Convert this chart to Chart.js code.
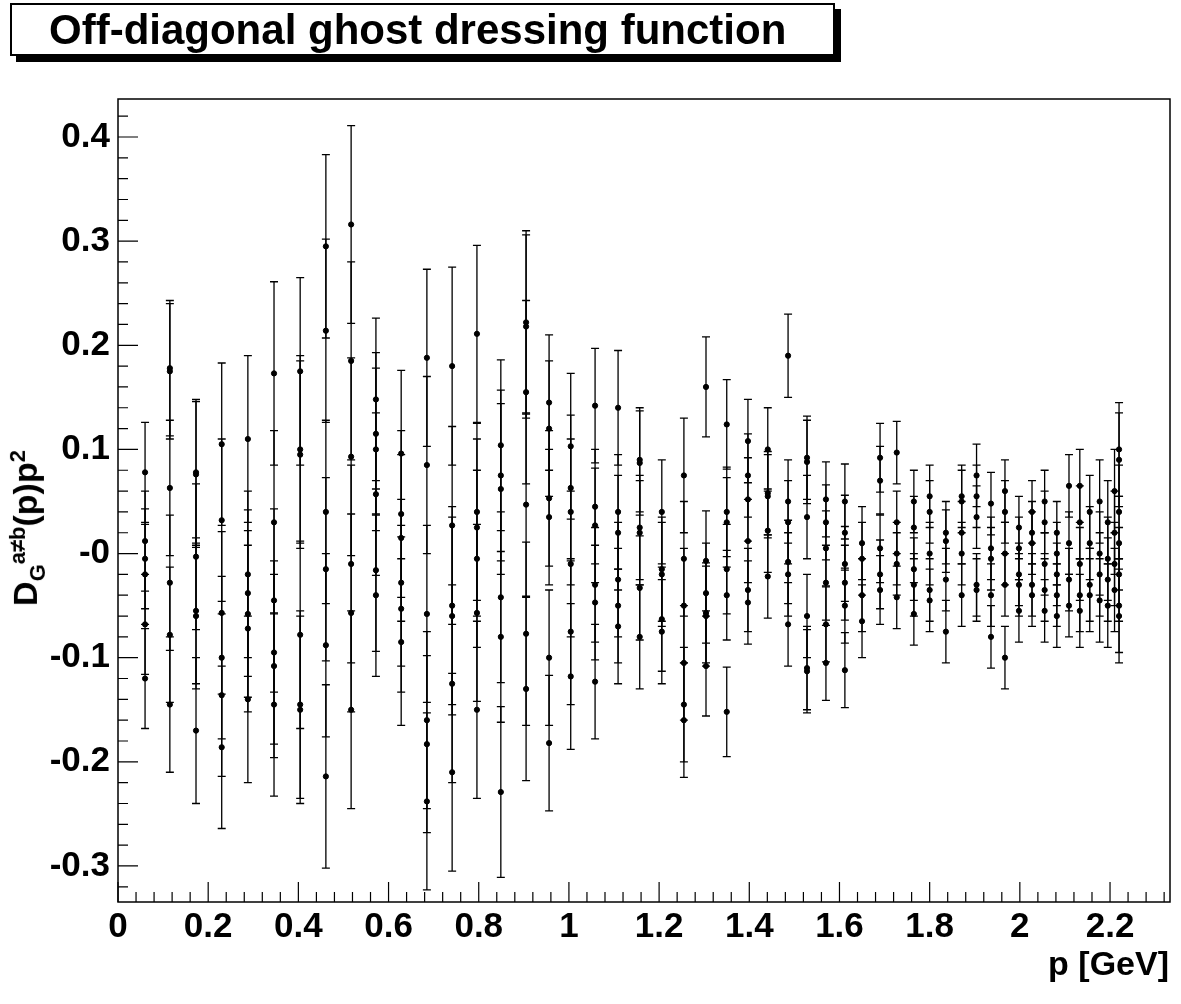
<!DOCTYPE html>
<html><head><meta charset="utf-8">
<script src="https://cdn.jsdelivr.net/npm/chart.js@4"></script>
<style>
body{margin:0;background:#fff;font-family:"Liberation Sans",Arial,sans-serif}
#wrap{position:relative;width:1181px;height:1004px}
#c{position:absolute;left:0;top:0}
#title{position:absolute;left:10px;top:3px;width:825px;height:53px;border:2px solid #000;background:#fff;box-shadow:6px 6px 0 #000;font-weight:bold;font-size:42px;line-height:50px;padding-left:37px;box-sizing:border-box;white-space:nowrap}
#ylab{position:absolute;left:-112px;top:505px;width:280px;transform:rotate(-90deg);transform-origin:center;font-weight:bold;font-size:34px;text-align:center;white-space:nowrap}
#ylab sup,#ylab sub{font-size:22px}
#xlab{position:absolute;right:12px;top:944px;font-weight:bold;font-size:34px}
</style></head><body>
<div id="wrap">
<canvas id="c" width="1181" height="1004"></canvas>
<div id="title">Off-diagonal ghost dressing function</div>
<div id="ylab">D<sub>G</sub><sup>a≠b</sup>(p)p<sup>2</sup></div>
<div id="xlab">p [GeV]</div>
</div>
<script>
const $=id=>document.getElementById(id);
// column momenta
const xs=[0.06,0.115,0.173,0.23,0.288,0.346,0.404,0.461,0.517,0.572,0.628,0.685,0.741,0.796,0.849,0.905,0.956,1.004,1.058,1.109,1.157,1.206,1.255,1.304,1.35,1.397,1.441,1.486,1.528,1.57,1.612,1.65,1.69,1.727,1.765,1.8,1.836,1.871,1.904,1.936,1.967,1.998,2.027,2.055,2.082,2.109,2.133,2.155,2.177,2.195,2.21,2.22];
// values per column
const vals=[
[0.078,0.012,-0.005,-0.02,-0.068,-0.12],
[0.178,0.175,0.063,-0.028,-0.078,-0.145],
[0.078,0.076,-0.003,-0.055,-0.06,-0.17],
[0.105,0.032,-0.057,-0.1,-0.136,-0.186],
[0.11,-0.02,-0.038,-0.058,-0.072,-0.14],
[0.173,0.03,-0.045,-0.095,-0.108,-0.145],
[0.175,0.1,0.095,-0.078,-0.145,-0.15],
[0.295,0.214,0.04,-0.015,-0.088,-0.214],
[0.316,0.185,0.093,-0.01,-0.057,-0.15],
[0.148,0.115,0.1,0.057,-0.016,-0.04],
[0.096,0.038,0.015,-0.028,-0.053,-0.085],
[0.188,0.085,-0.058,-0.16,-0.183,-0.238],
[0.18,0.027,-0.05,-0.06,-0.125,-0.21],
[0.211,0.04,0.025,-0.005,-0.057,-0.15],
[0.104,0.075,0.062,-0.042,-0.08,-0.229],
[0.222,0.218,0.155,0.047,-0.077,-0.13],
[0.145,0.12,0.053,0.035,-0.1,-0.182],
[0.103,0.063,0.04,-0.01,-0.075,-0.118],
[0.142,0.045,0.027,-0.03,-0.047,-0.123],
[0.14,0.04,0.02,-0.025,-0.05,-0.07],
[0.09,0.087,0.025,0.02,-0.033,-0.08],
[0.04,-0.015,-0.02,-0.063,-0.075],
[0.075,-0.005,-0.05,-0.105,-0.145,-0.16],
[0.16,-0.007,-0.038,-0.057,-0.06,-0.108],
[0.124,0.04,0.03,-0.015,-0.04,-0.152],
[0.108,0.075,0.052,0.012,-0.035,-0.047],
[0.1,0.058,0.055,0.022,-0.022],
[0.19,0.05,0.03,-0.008,-0.02,-0.068],
[0.092,0.088,0.035,-0.06,-0.11,-0.113],
[0.052,0.03,0.005,-0.028,-0.068,-0.105],
[0.05,0.02,-0.01,-0.028,-0.05,-0.112],
[0.01,-0.005,-0.04,-0.065],
[0.092,0.07,0.005,-0.02,-0.035],
[0.097,0.03,0.0,-0.01,-0.042],
[0.05,0.025,-0.015,-0.03,-0.058],
[0.055,0.04,0.0,-0.035,-0.045],
[0.02,0.012,-0.025,-0.075],
[0.055,0.05,0.02,0.0,-0.04],
[0.075,0.055,0.035,-0.03,-0.035],
[0.048,0.005,-0.005,-0.04,-0.08],
[0.06,0.04,0.0,-0.03,-0.1],
[0.025,0.005,-0.02,-0.03,-0.055],
[0.04,0.02,0.01,-0.03,-0.04],
[0.05,0.03,-0.01,-0.035,-0.055],
[0.02,0.0,-0.02,-0.04,-0.06],
[0.065,0.01,-0.025,-0.05],
[0.065,0.03,-0.01,-0.04,-0.055],
[0.04,0.01,-0.03,-0.04],
[0.05,0.0,-0.02,-0.045],
[0.03,-0.005,-0.025,-0.05],
[0.06,0.02,-0.01,-0.035],
[0.1,0.09,0.04,0.01,-0.02,-0.05,-0.06]];
// error per column
const errs=[0.048,0.065,0.07,0.078,0.08,0.088,0.09,0.088,0.095,0.078,0.08,0.085,0.095,0.085,0.082,0.088,0.065,0.07,0.055,0.055,0.05,0.05,0.055,0.048,0.043,0.04,0.04,0.04,0.04,0.036,0.036,0.035,0.033,0.03,0.03,0.03,0.03,0.03,0.03,0.03,0.03,0.03,0.03,0.03,0.03,0.03,0.035,0.035,0.04,0.04,0.04,0.045];
const xMajor=[0,0.2,0.4,0.6,0.8,1,1.2,1.4,1.6,1.8,2,2.2];
const yMajor=[-0.3,-0.2,-0.1,0,0.1,0.2,0.3,0.4];

const pts=[];
xs.forEach((x,i)=>vals[i].forEach(v=>pts.push({x,y:v,e:errs[i]})));

const frame={id:"frame",afterDatasetsDraw(ch){
  const c=ch.ctx,a=ch.chartArea,sx=ch.scales.x,sy=ch.scales.y;
  c.save();c.strokeStyle="#000";c.lineWidth=1.3;
  // error bars
  ch.data.datasets[0].data.forEach(p=>{
    const px=sx.getPixelForValue(p.x),y1=sy.getPixelForValue(p.y+p.e),y2=sy.getPixelForValue(p.y-p.e);
    c.beginPath();c.moveTo(px,y1);c.lineTo(px,y2);
    c.moveTo(px-4,y1);c.lineTo(px+4,y1);c.moveTo(px-4,y2);c.lineTo(px+4,y2);c.stroke();
  });
  c.lineWidth=1.5;c.strokeRect(a.left,a.top,a.right-a.left,a.bottom-a.top);
  c.lineWidth=1.2;c.beginPath();
  for(let k=0;k<=58;k++){const v=k*0.04,px=sx.getPixelForValue(v);if(px>a.right)break;
    const L=k%5===0?20:10;c.moveTo(px,a.bottom);c.lineTo(px,a.bottom-L);}
  for(let k=-17;k<=21;k++){const v=k*0.02,py=sy.getPixelForValue(v);if(py<a.top||py>a.bottom)continue;
    const L=k%5===0?20:10;c.moveTo(a.left,py);c.lineTo(a.left+L,py);}
  c.stroke();
  c.fillStyle="#000";c.font="bold 35px 'Liberation Sans'";
  c.textAlign="center";c.textBaseline="top";
  xMajor.forEach(v=>c.fillText(String(v),sx.getPixelForValue(v),910));
  c.textAlign="right";c.textBaseline="middle";
  yMajor.forEach(v=>c.fillText(v===0?"-0":String(v),110,sy.getPixelForValue(v)));
  c.restore();
}};

new Chart($("c"),{type:"scatter",
  data:{datasets:[{data:pts,backgroundColor:"#000",borderColor:"#000",pointRadius:2.6,pointHoverRadius:2.6}]},
  options:{responsive:false,animation:false,events:[],
    layout:{padding:{left:118,top:99,right:11,bottom:102}},
    plugins:{legend:{display:false},tooltip:{enabled:false}},
    scales:{x:{type:"linear",min:0,max:2.333,display:false},
            y:{type:"linear",min:-0.3346,max:0.4365,display:false}}},
  plugins:[frame]});
</script>
</body></html>
